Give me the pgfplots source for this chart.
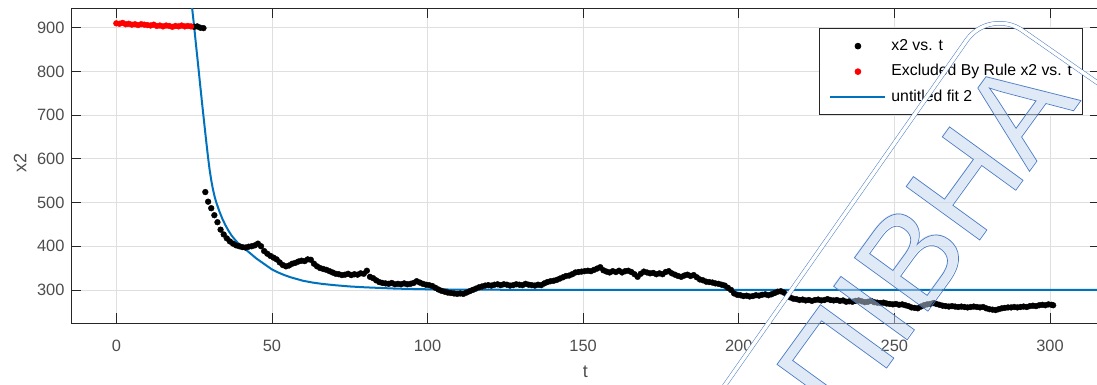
\documentclass[border=0pt]{standalone}
\usepackage{fontspec}
\setmainfont{Liberation Sans}
\newfontfamily\wmfont{Liberation Sans}
\usepackage{pgfplots}
\pgfplotsset{compat=1.18}
\definecolor{mblue}{HTML}{0072BD}
\definecolor{axgray}{HTML}{262626}
\definecolor{tickgray}{HTML}{4D4D4D}
\definecolor{wmline}{HTML}{4A7BC4}
\definecolor{wmfill}{HTML}{C2D4EE}
\pgfplotsset{
  dotlegend/.style={legend image code/.code={\path (0pt,0pt) (55pt,0pt); \draw[mark repeat=2,mark phase=2,##1] plot coordinates {(0pt,0pt) (27.5pt,0pt) (55pt,0pt)};}},
  linelegend/.style={legend image code/.code={\draw[##1] (0pt,0pt) -- (55pt,0pt);}},
}
\begin{document}
\begin{tikzpicture}[x=1pt,y=1pt]
\begin{axis}[
  at={(71pt,-323.3pt)}, anchor=south west,
  scale only axis, width=1028.5pt, height=315pt,
  xmin=-14.56, xmax=315.9, ymin=223.7, ymax=944.4,
  xtick={0,50,...,300}, ytick={300,400,...,900},
  tick align=inside, major tick length=10pt,
  tick style={axgray, line width=0.7pt},
  axis line style={axgray, line width=0.9pt},
  grid=major, major grid style={gray!25, line width=0.7pt},
  /pgf/number format/assume math mode=true,
  ticklabel style={font=\fontsize{16.4}{19}\selectfont, text=tickgray},
  xticklabel style={yshift=-13pt},
  yticklabel style={xshift=-3pt},
  xlabel={t}, ylabel={x2},
  label style={font=\fontsize{18}{21}\selectfont, text=tickgray},
  xlabel style={at={(axis description cs:0.5,-0.155)}, anchor=center},
  ylabel style={at={(axis description cs:-0.0496,0.509)}, anchor=center},
  legend style={at={(axis description cs:0.7273,0.9375)}, anchor=north west,
    draw=axgray, line width=0.8pt, fill=white,
    inner xsep=10pt, inner ysep=5pt, column sep=5pt, row sep=0pt,
    font=\fontsize{15.8}{19}\selectfont,
    nodes={inner xsep=0pt, inner ysep=4.75pt, text height=12pt, text depth=4pt}},
  legend cell align=left,
]
\addplot[only marks, mark=*, mark size=2.9pt, black, dotlegend]
coordinates {
(25,902)(26,903)(27,900)(28,899)
(28.6,524)(29.5,502)(30.5,487)(31.5,471)(32.5,455)(33.5,438)(34.5,427)(35.5,418)(36.5,411)(37.5,406)
(38.5,402)(39.5,400)(40.5,398)(41.5,397)(42.5,399)(43.5,400)(44.5,402)(45.5,406)(46.5,400)(47.5,389)
(48.5,383)(49.5,378)(50.5,374)(51.5,370)(52.5,363)(53.5,357)(54.5,354)(55.5,356)(56.5,360)(57.5,362)
(58.5,365)(59.5,367)(60.5,366)(61.5,370)(62.5,369)(63.5,360)(64.5,354)(65.5,350)(66.5,348)(67.5,346)
(68.5,343)(69.5,340)(70.5,337)(71.5,336)(72.5,334)(73.5,335)(74.5,337)(75.5,334)(76.5,336)(77.5,335)
(78.5,338)(79.5,337)(80.5,344)(81.5,330)(82.5,327)(83.5,322)(84.5,318)(85.5,316)(86.5,315)(87.5,314)
(88.5,316)(89.5,313)(90.5,314)(91.5,313)(92.5,315)(93.5,313)(94.5,314)(95.5,316)(96.5,320)(97.5,317)
(98.5,314)(99.5,312)(100.5,311)(101.5,309)(102.5,305)(103.5,301)(104.5,298)(105.5,296)(106.5,294)(107.5,293)
(108.5,292)(109.5,291)(110.5,292)(111.5,291)(112.5,294)(113.5,297)(114.5,300)(115.5,303)(116.5,306)(117.5,308)
(118.5,310)(119.5,311)(120.5,310)(121.5,312)(122.5,313)(123.5,311)(124.5,313)(125.5,312)(126.5,310)(127.5,311)
(128.5,313)(129.5,312)(130.5,311)(131.5,314)(132.5,312)(133.5,311)(134.5,310)(135.5,312)(136.5,311)(137.5,315)
(138.5,318)(139.5,320)(140.5,321)(141.5,323)(142.5,326)(143.5,329)(144.5,332)(145.5,333)(146.5,336)(147.5,340)
(148.5,341)(149.5,342)(150.5,343)(151.5,344)(152.5,343)(153.5,346)(154.5,349)(155.5,352)(156.5,345)(157.5,342)
(158.5,340)(159.5,343)(160.5,341)(161.5,344)(162.5,340)(163.5,343)(164.5,344)(165.5,341)(166.5,336)(167.5,330)
(168.5,337)(169.5,342)(170.5,340)(171.5,338)(172.5,339)(173.5,336)(174.5,338)(175.5,336)(176.5,341)(177.5,343)
(178.5,338)(179.5,335)(180.5,332)(181.5,330)(182.5,333)(183.5,335)(184.5,332)(185.5,334)(186.5,329)(187.5,324)
(188.5,322)(189.5,319)(190.5,318)(191.5,317)(192.5,315)(193.5,314)(194.5,312)(195.5,310)(196.5,305)(197.5,300)
(198.5,292)(199.5,289)(200.5,288)(201.5,286)(202.5,287)(203.5,285)(204.5,286)(205.5,288)(206.5,287)(207.5,289)
(208.5,290)(209.5,288)(210.5,290)(211.5,293)(212.5,296)(213.5,297)(214.5,294)(215.5,288)(216.5,283)(217.5,280)
(218.5,279)(219.5,277)(220.5,278)(221.5,276)(222.5,277)(223.5,275)(224.5,277)(225.5,278)(226.5,276)(227.5,277)
(228.5,279)(229.5,277)(230.5,276)(231.5,277)(232.5,275)(233.5,276)(234.5,273)(235.5,274)(236.5,273)(237.5,275)
(238.5,276)(239.5,274)(240.5,272)(241.5,273)(242.5,275)(243.5,272)(244.5,271)(245.5,270)(246.5,271)(247.5,269)
(248.5,268)(249.5,267)(250.5,268)(251.5,266)(252.5,267)(253.5,265)(254.5,263)(255.5,260)(256.5,259)(257.5,258)
(258.5,262)(259.5,265)(260.5,267)(261.5,268)(262.5,270)(263.5,268)(264.5,266)(265.5,264)(266.5,263)(267.5,262)
(268.5,263)(269.5,262)(270.5,261)(271.5,262)(272.5,261)(273.5,260)(274.5,261)(275.5,262)(276.5,261)(277.5,260)
(278.5,261)(279.5,258)(280.5,256)(281.5,255)(282.5,254)(283.5,256)(284.5,258)(285.5,259)(286.5,260)(287.5,260)
(288.5,261)(289.5,260)(290.5,261)(291.5,262)(292.5,261)(293.5,263)(294.5,264)(295.5,263)(296.5,265)(297.5,266)
(298.5,265)(299.5,267)(300.5,266)(301,265)
};
\addlegendentry{x2 vs. t}
\addplot[only marks, mark=*, mark size=2.9pt, red, dotlegend]
coordinates {
(0,910)(1,909)(2,911)(3,908)(4,909)(5,907)(6,908)(7,906)(8,908)(9,907)(10,906)(11,905)(12,907)
(13,904)(14,905)(15,903)(16,905)(17,904)(18,902)(19,904)(20,903)(21,905)(22,903)(23,904)(24,903)
};
\addlegendentry{Excluded By Rule x2 vs. t}
\addplot[mblue, line width=2pt, linelegend]
coordinates {
(24.2,955)(24.4,942)(25,903)(25.5,868)(26,834)(26.5,800)(27,765)(27.5,731)(28,698)(28.5,665)(29,633)
(29.5,602)(30,574)(30.5,551)(31,532)(31.5,516)(32,503)(33,482)(34,464)(35,449)(36,436)(37,425)
(38,416)(39,408)(40,402)(41,396)(42,390)(43,384)(44,378)(45,372)(46,367)(47,362)(48,357)(49,352)
(50,347)(52,340)(54,334)(56,329)(58,325)(60,321)(63,317)(66,314)(70,311)(75,308)(80,306)(85,304.5)
(90,303)(100,301.5)(110,300.8)(130,300.3)(160,300)(200,300)(250,300)(316,300)
};
\addlegendentry{untitled fit 2}
\end{axis}
% watermark stamp
\draw[wmline, line width=0.5pt, double=white, double distance=3.5pt, rounded corners=40pt]
  (718,-395) -- (989.5,-7.6) -- (1115,-95);
\node[rotate=54, text=wmfill, opacity=0.5, font=\wmfont\fontsize{132}{132}\selectfont, inner sep=0pt]
  at (877,-304) {ЗАПІВНА};
\node[rotate=54, text=wmline, font=\wmfont\fontsize{132}{132}\selectfont, inner sep=0pt]
  at (877,-304) {\special{pdf:literal direct 1 Tr 0.7 w}ЗАПІВНА\special{pdf:literal direct 0 Tr}};
\pgfresetboundingbox
\useasboundingbox (0,0) rectangle (1097,-385);
\end{tikzpicture}
\end{document}
